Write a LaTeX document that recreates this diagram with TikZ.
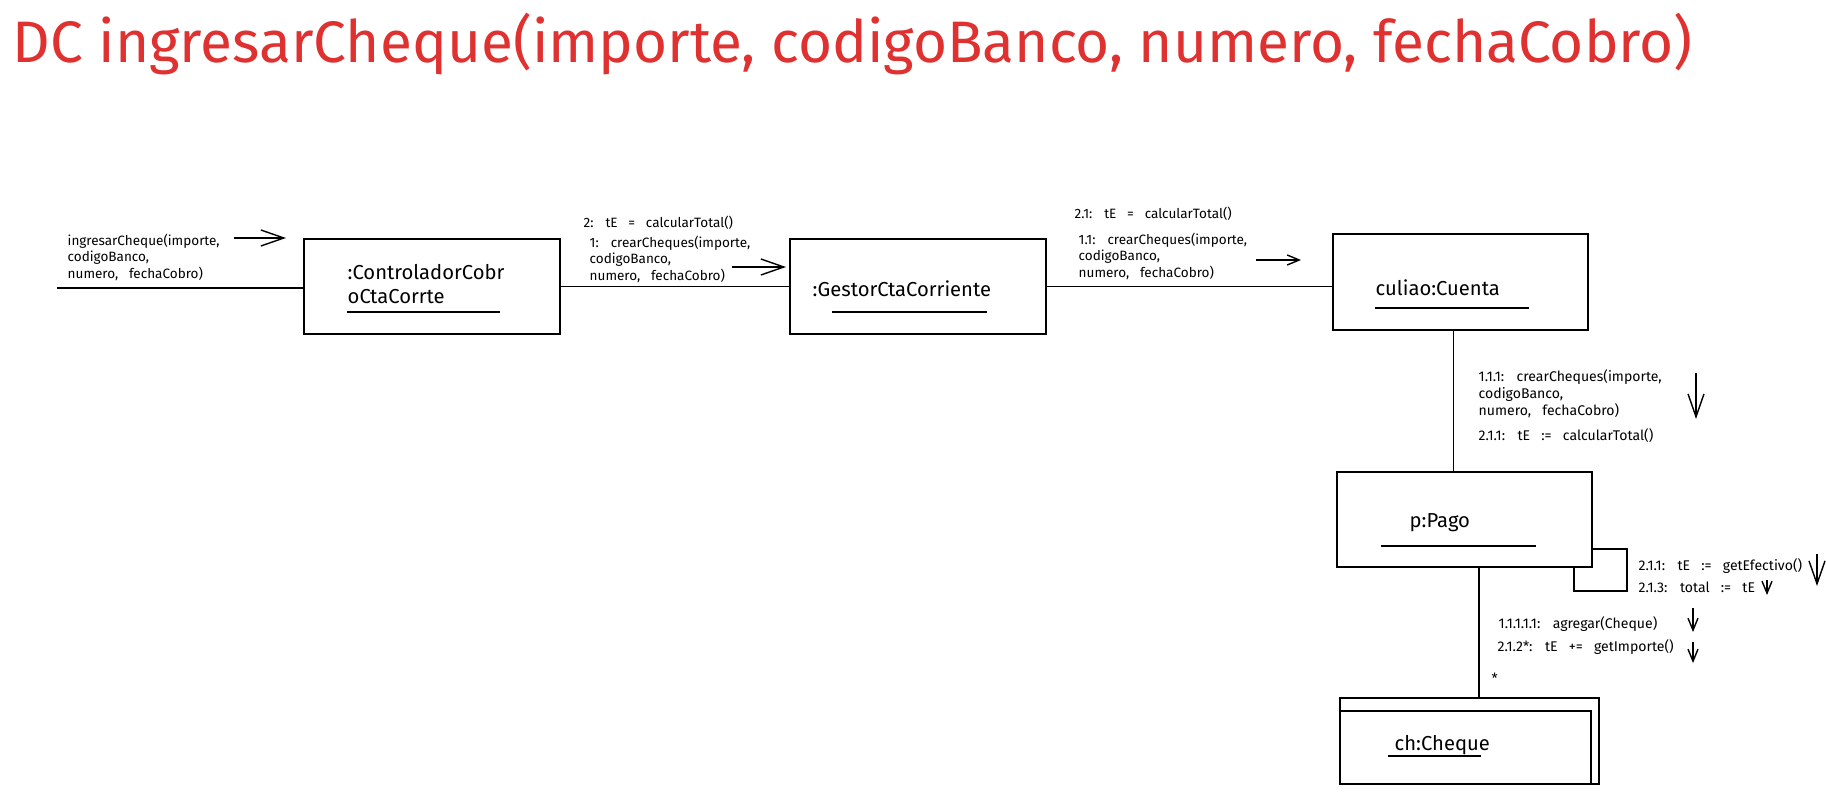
\documentclass[tikz,border=0pt]{standalone}
\usepackage{fontspec}
\setmainfont{Fira Sans}
\newfontfamily\msgfont{Fira Sans}[WordSpace=3]
\usepackage{tikz}
\usetikzlibrary{arrows.meta}
\definecolor{titlered}{RGB}{224,49,49}

\begin{document}
\begin{tikzpicture}[x=0.02cm,y=-0.02cm,line width=0.8pt,
    obj/.style={rectangle,draw=black,fill=white,minimum width=5.12cm,minimum height=1.9cm,inner sep=0pt},
    otxt/.style={font=\fontsize{11.5}{13.7}\selectfont,align=left,anchor=west,inner sep=0pt},
    msg/.style={font=\msgfont\fontsize{7.7}{9.4}\selectfont,align=left,anchor=west,inner sep=0pt},
    msgR/.style={msg,font=\msgfont\fontsize{8}{9.6}\selectfont},
    uline/.style={line width=0.7pt},
    big/.style={-{Straight Barb[length=0.46cm,width=0.32cm]}},
    small/.style={-{Straight Barb[length=0.24cm,width=0.2cm]}}]
\path[use as bounding box,fill=white] (0,0) rectangle (1826,794);
\node[anchor=base west,text=titlered,font=\fontsize{33.3}{38}\selectfont,inner sep=0pt] (title) at (12,63) {DC ingresarCheque(importe, codigoBanco, numero, fechaCobro)};
\node[obj] (ctrl) at (432,286.5) {};
\node[obj] (gestor) at (918,286.5) {};
\node[obj,minimum width=5.1cm,minimum height=1.92cm] (cuenta) at (1460.5,282) {};
\node[obj,minimum width=5.1cm] (pago) at (1464.5,519.5) {};
\node[obj,minimum width=5.18cm,minimum height=1.72cm] (chequesB) at (1469.5,741) {};
\node[obj,minimum width=5.02cm,minimum height=1.46cm] (cheques) at (1465.5,747.5) {};
\node[otxt] (ctrlT) at (347,284) {:ControladorCobr\\oCtaCorrte};
\draw[uline] (347,312) -- (500,312);
\node[otxt] (gestorT) at (812,289) {:GestorCtaCorriente};
\draw[uline] (832,312) -- (987,312);
\node[otxt] (cuentaT) at (1375,288) {culiao:Cuenta};
\draw[uline] (1375,308) -- (1529,308);
\node[otxt] (pagoT) at (1409,523) {p:Pago};
\draw[uline] (1381,546) -- (1536,546);
\node[otxt] (chequesT) at (1394,745) {ch:Cheque};
\draw[uline] (1388,756) -- (1481,756);
\coordinate (in) at (57,288);
\coordinate (loopA) at (1627,591);
\coordinate (loopB) at (1574,591);
\draw (in) -- (in -| ctrl.west);
\draw (ctrl) -- (gestor);
\draw (gestor.east) -- (gestor.east -| cuenta.west);
\draw ([xshift=-0.14cm]cuenta.south) -- ([xshift=-0.14cm]cuenta.south |- pago.north);
\draw ([xshift=0.29cm]pago.south) -- ([xshift=0.29cm]pago.south |- chequesB.north);
\draw ([yshift=-0.59cm]pago.east) -| (loopA) -- (loopB) -- (loopB |- pago.south);
\node[msg] (mIn) at (67,257) {ingresarCheque(importe,\\codigoBanco,\\numero, fechaCobro)};
\node[msg] (m2) at (583,223) {2: tE = calcularTotal()};
\node[msg] (m1) at (589,259) {1: crearCheques(importe,\\codigoBanco,\\numero, fechaCobro)};
\node[msg] (m21) at (1074,214) {2.1: tE = calcularTotal()};
\node[msg] (m11) at (1078,256) {1.1: crearCheques(importe,\\codigoBanco,\\numero, fechaCobro)};
\node[msgR] (m111) at (1478,393.5) {1.1.1: crearCheques(importe,\\codigoBanco,\\numero, fechaCobro)};
\node[msgR] (m211) at (1478,436) {2.1.1: tE := calcularTotal()};
\node[msgR] (mEf) at (1638,566) {2.1.1: tE := getEfectivo()};
\node[msgR] (mTot) at (1638,587) {2.1.3: total := tE};
\node[msgR] (mAgr) at (1498,624) {1.1.1.1.1: agregar(Cheque)};
\node[msgR] (mImp) at (1497,647) {2.1.2*: tE += getImporte()};
\node[msgR] (mult) at (1491,678) {*};
\coordinate (a1s) at (234,238);
\coordinate (a1e) at (286,238);
\coordinate (a2s) at (732,267);
\coordinate (a2e) at (786,267);
\coordinate (a3s) at (1256,260);
\coordinate (a3e) at (1301,260);
\coordinate (a4s) at (1696,373);
\coordinate (a4e) at (1696,419);
\coordinate (a5s) at (1817,554);
\coordinate (a5e) at (1817,586);
\coordinate (a6s) at (1767,580);
\coordinate (a6e) at (1767,595);
\coordinate (a7s) at (1693,608);
\coordinate (a7e) at (1693,632);
\coordinate (a8s) at (1693,642);
\coordinate (a8e) at (1693,663);
\draw[big] (a1s) -- (a1e);
\draw[big] (a2s) -- (a2e);
\draw[small] (a3s) -- (a3e);
\draw[big] (a4s) -- (a4e);
\draw[big] (a5s) -- (a5e);
\draw[small] (a6s) -- (a6e);
\draw[small] (a7s) -- (a7e);
\draw[small] (a8s) -- (a8e);
\end{tikzpicture}
\end{document}
